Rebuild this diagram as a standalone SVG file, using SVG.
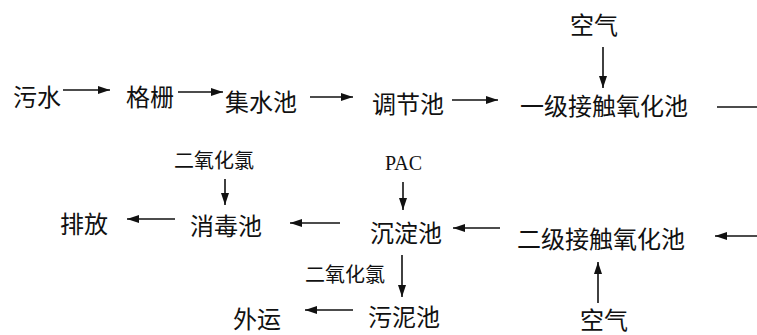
<svg xmlns="http://www.w3.org/2000/svg" width="757" height="335" viewBox="0 0 757 335">
<style>
.t{font-family:"Noto Sans CJK SC","Noto Sans",sans-serif;font-size:24px;fill:#111}
.s{font-family:"Noto Sans CJK SC","Noto Sans",sans-serif;font-size:20px;fill:#111}
.p{font-family:"Liberation Serif",serif;font-size:20px;fill:#111}
.c line{stroke:#111;stroke-width:1.6;fill:none}
.c line.a{marker-end:url(#ah)}
</style>
<defs>
<marker id="ah" markerUnits="userSpaceOnUse" markerWidth="13" markerHeight="9" refX="12" refY="4" orient="auto">
<path d="M0,0 L12,4 L0,8 z" fill="#111"/>
</marker>
</defs>
<rect width="757" height="335" fill="#fff"/>
<g id="n-wushui"><text class="t" x="13" y="106">污水</text></g>
<g id="n-gezha"><text class="t" x="126" y="106">格栅</text></g>
<g id="n-jishuichi"><text class="t" x="225" y="111">集水池</text></g>
<g id="n-tiaojiechi"><text class="t" x="372" y="113">调节池</text></g>
<g id="n-yiji"><text class="t" x="520" y="115">一级接触氧化池</text></g>
<g id="n-air1"><text class="t" x="570" y="34">空气</text></g>
<g id="n-clo2a"><text class="s" x="174" y="168">二氧化氯</text></g>
<g id="n-paifang"><text class="t" x="60" y="233">排放</text></g>
<g id="n-xiaoduchi"><text class="t" x="190" y="235">消毒池</text></g>
<g id="n-pac"><text class="p" x="385" y="170">PAC</text></g>
<g id="n-chendianchi"><text class="t" x="370" y="242">沉淀池</text></g>
<g id="n-erji"><text class="t" x="517" y="248">二级接触氧化池</text></g>
<g id="n-clo2b"><text class="s" x="305" y="282">二氧化氯</text></g>
<g id="n-waiyun"><text class="t" x="233" y="328">外运</text></g>
<g id="n-wunichi"><text class="t" x="368" y="326">污泥池</text></g>
<g id="n-air2"><text class="t" x="580" y="329">空气</text></g>
<g class="c" id="connectors">
<line class="a" x1="63" y1="90" x2="110" y2="90"/>
<line class="a" x1="178" y1="92" x2="223" y2="92"/>
<line class="a" x1="310" y1="97" x2="353" y2="97"/>
<line class="a" x1="452" y1="100" x2="498" y2="100"/>
<line class="a" x1="603" y1="47" x2="603" y2="88"/>
<line x1="717" y1="107" x2="757" y2="107"/>
<line class="a" x1="757" y1="236" x2="715" y2="236"/>
<line class="a" x1="500" y1="228" x2="453" y2="228"/>
<line class="a" x1="340" y1="223" x2="290" y2="223"/>
<line class="a" x1="175" y1="219" x2="127" y2="219"/>
<line class="a" x1="225" y1="179" x2="225" y2="205"/>
<line class="a" x1="403" y1="182" x2="403" y2="210"/>
<line class="a" x1="402" y1="255" x2="402" y2="297"/>
<line class="a" x1="353" y1="310" x2="305" y2="310"/>
<line class="a" x1="598" y1="303" x2="598" y2="262"/>
</g>
</svg>
